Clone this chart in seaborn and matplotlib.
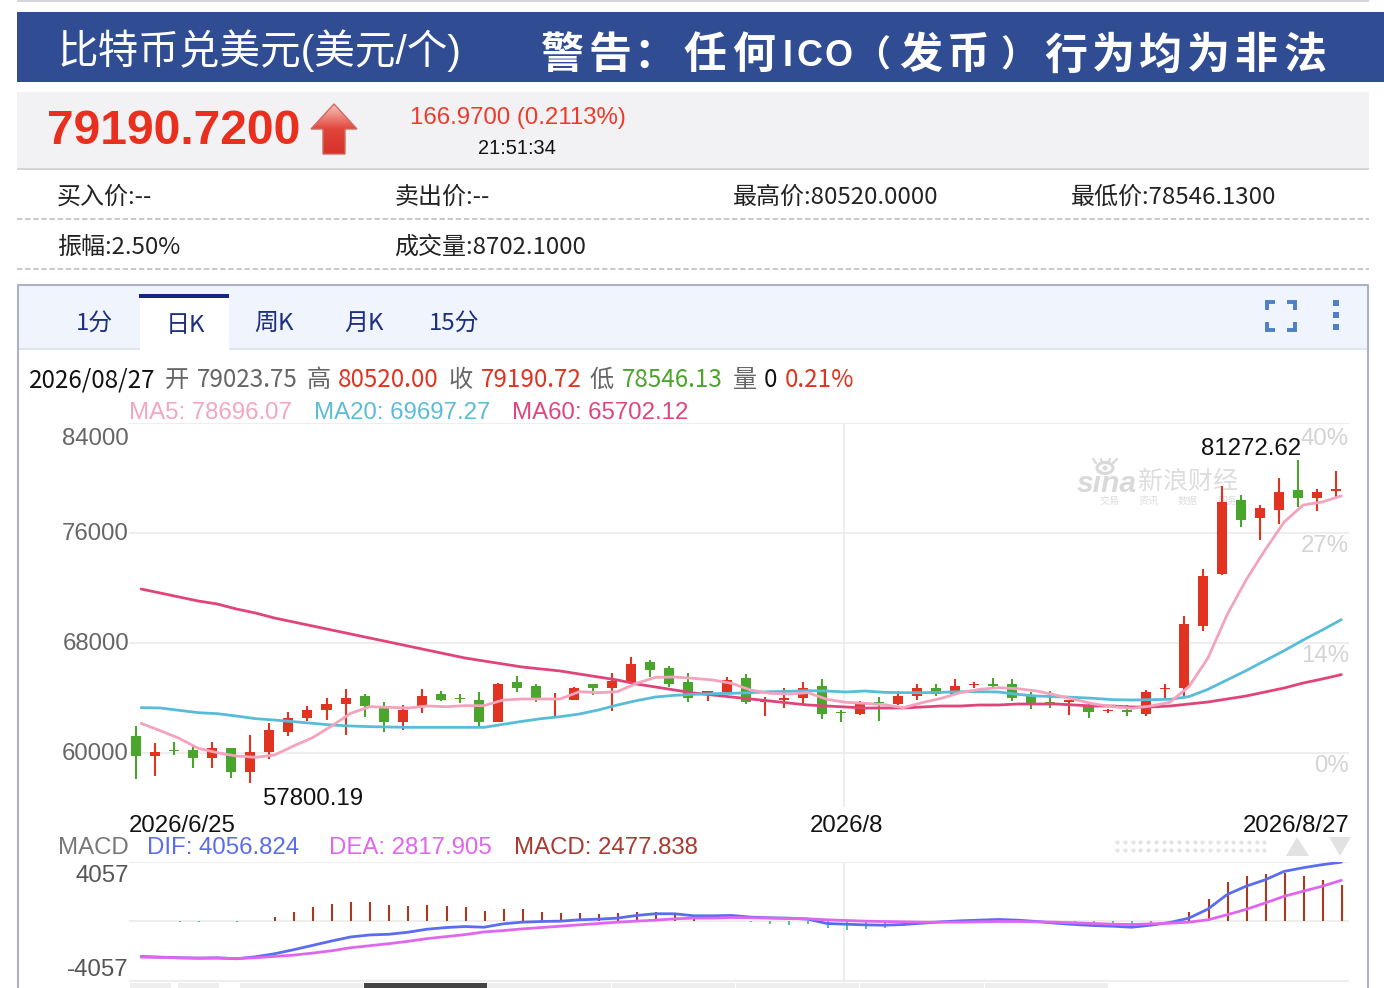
import numpy as np
import pandas as pd
import matplotlib
matplotlib.use('Agg')
import matplotlib.pyplot as plt
from matplotlib.patches import Rectangle, Polygon, Circle, Ellipse
import seaborn as sns

# candles
opens = [61236, 59782, 60218, 60218, 59636, 60364, 58618, 60073, 61527, 62545, 63127, 63564, 64145, 63418, 62254, 63418,
         64291, 64000, 63854, 62254, 65164, 64873, 63854, 63854, 65018, 64727, 65164, 66618, 66182, 65164, 64364, 64436,
         65454, 63709, 63854, 64000, 64873, 62982, 62836, 63709, 63564, 64145, 64727, 64291, 64921, 65018, 65018, 64145,
         63709, 63709, 63418, 63030, 63127, 62836, 64630, 64727, 69236, 73018, 78400, 77091, 77673, 79127, 78545, 79024]
closes = [59782, 60073, 60121, 59636, 60364, 58618, 60073, 61673, 62545, 63127, 63564, 64000, 63418, 62254, 63127, 64145,
          63854, 63903, 62254, 65018, 64727, 64000, 63927, 64727, 64727, 65236, 66473, 66036, 65018, 64000, 64436, 65309,
          63709, 63782, 64000, 64727, 62836, 62885, 63564, 63612, 64145, 64727, 64291, 64873, 65018, 64873, 64000, 63564,
          63564, 63782, 62982, 63127, 62982, 64436, 64727, 69382, 72873, 78255, 76945, 77818, 78982, 78545, 78982, 79191]
highs = [61964, 60751, 60824, 60509, 60776, 60364, 61333, 62158, 62982, 63442, 63976, 64679, 64291, 63733, 63467, 64679,
         64485, 64291, 64412, 65067, 65600, 64994, 64364, 64824, 65018, 65818, 66957, 66763, 66327, 65818, 64460, 65551,
         65745, 64073, 64727, 65164, 65382, 63127, 63782, 64073, 64533, 65018, 65018, 65382, 65164, 65454, 65382, 64436,
         64485, 63854, 63564, 63200, 63491, 64582, 65042, 69964, 73382, 79418, 78764, 78036, 80000, 81273, 79200, 80520]
lows = [58133, 58327, 59855, 58909, 58909, 58206, 57800, 59588, 61236, 62327, 62400, 61285, 62642, 61551, 61673, 62933,
        63782, 63636, 61915, 62254, 64436, 63709, 62545, 63854, 64218, 63054, 65164, 65503, 64800, 63709, 63782, 64339,
        63564, 62691, 63248, 63564, 62448, 62254, 62764, 62303, 63491, 63854, 64145, 64218, 64727, 64727, 63782, 63200,
        63273, 62764, 62521, 62933, 62691, 62691, 63927, 64145, 68873, 72945, 76436, 75491, 76655, 77891, 77600, 78546]

ma5 = [62158, 61624, 61067, 60339, 60024, 59782, 59685, 59854, 60509, 61115, 61964, 62885, 63370, 63321, 63273, 63418,
       63370, 63442, 63442, 63854, 63927, 63927, 63927, 64460, 64388, 64460, 65067, 65503, 65527, 65430, 65309, 65067,
       64582, 64339, 64291, 64388, 63903, 63685, 63612, 63515, 63297, 63661, 63976, 64388, 64630, 64751, 64679, 64509,
       64218, 63903, 63564, 63370, 63248, 63418, 63685, 64824, 66909, 70036, 72582, 74764, 76800, 78036, 78255, 78696]
ma20 = [63297, 63273, 63103, 62933, 62861, 62691, 62497, 62400, 62279, 62157, 62036, 61964, 61915, 61891, 61867, 61867,
        61867, 61867, 61867, 62085, 62303, 62497, 62642, 62836, 63127, 63491, 63806, 64073, 64194, 64267, 64315, 64339,
        64388, 64460, 64485, 64533, 64509, 64436, 64509, 64412, 64388, 64388, 64412, 64460, 64460, 64436, 64267, 64145,
        64097, 64048, 63976, 63879, 63854, 63879, 63903, 64097, 64630, 65309, 65988, 66715, 67442, 68218, 68945, 69697]
ma60 = [71927, 71636, 71345, 71055, 70836, 70473, 70182, 69818, 69527, 69236, 68945, 68655, 68364, 68073, 67782, 67491,
        67200, 66909, 66691, 66473, 66255, 66109, 65964, 65745, 65527, 65309, 65018, 64800, 64582, 64364, 64218, 64073,
        63927, 63782, 63636, 63491, 63418, 63345, 63273, 63273, 63273, 63345, 63418, 63418, 63491, 63491, 63564, 63564,
        63564, 63491, 63418, 63418, 63345, 63345, 63418, 63564, 63709, 63927, 64145, 64436, 64727, 65091, 65382, 65702]

# MACD panel
dif = [-2392, -2438, -2484, -2507, -2484, -2553, -2415, -2208, -1932, -1633, -1334, -1058, -920, -874, -736, -529,
       -414, -345, -391, -161, -46, 0, 23, 115, 161, 230, 414, 529, 529, 391, 391, 414,
       299, 253, 230, 161, -138, -184, -230, -253, -207, -115, -23, 46, 92, 138, 92, 0,
       -115, -207, -276, -322, -391, -253, -69, 230, 851, 1840, 2415, 2852, 3427, 3680, 3887, 4057]
dea = [-2438, -2461, -2484, -2507, -2507, -2530, -2484, -2392, -2300, -2162, -2001, -1794, -1656, -1518, -1357, -1173,
       -1035, -897, -713, -621, -506, -414, -322, -230, -138, -46, 23, 92, 184, 230, 230, 276,
       253, 230, 207, 184, 115, 69, 23, 0, -23, -46, -46, -46, -23, 0, 0, -23,
       -46, -92, -138, -184, -207, -161, -115, -46, 115, 460, 828, 1265, 1725, 2070, 2415, 2818]
macd = [0, 0, -30, -40, 0, -40, 0, 276, 644, 966, 1196, 1357, 1311, 1104, 1081, 1104,
        1058, 966, 690, 828, 828, 667, 552, 575, 529, 552, 667, 667, 460, 207, 46, 46,
        -30, -184, -207, -138, -414, -552, -483, -437, -276, -115, -60, 0, 0, 69, 0, 0,
        -115, -184, -276, -322, -391, -184, 0, 667, 1541, 2691, 3082, 3266, 3312, 3082, 2806, 2478]

price_ticks = [84000, 76000, 68000, 60000]
price_labels = ['84000', '76000', '68000', '60000']
pct_labels = ['40%', '27%', '14%', '0%']

df = pd.DataFrame({'i': np.arange(len(opens)), 'open': opens, 'close': closes, 'high': highs, 'low': lows,
                   'ma5': ma5, 'ma20': ma20, 'ma60': ma60, 'dif': dif, 'dea': dea, 'macd': macd})
df['line_x'] = df['i'] + 0.27

W, H = 1384, 988
RED = '#e03320'
GREEN = '#4aa52c'
GRID = '#eeeeee'
NAVY = '#1c2f80'
CJK = ['Noto Sans CJK SC', 'DejaVu Sans']

sns.set_theme(style='white')
plt.rcParams['font.family'] = ['Liberation Sans', 'Noto Sans CJK SC', 'DejaVu Sans']


def box(l, t, r, b):
    return [l / W, 1 - b / H, (r - l) / W, (b - t) / H]


def px(size):
    return size * 0.72


fig = plt.figure(figsize=(W / 100, H / 100), dpi=100, facecolor='white')
ui = fig.add_axes([0, 0, 1, 1])
ui.set_xlim(0, W)
ui.set_ylim(H, 0)
ui.axis('off')


def rect(l, t, r, b, color, z=1):
    ui.add_patch(Rectangle((l, t), r - l, b - t, facecolor=color, edgecolor='none', zorder=z))


def label(x, y, s, size=24, color='#222222', ha='left', **kw):
    # text sits about 2px high with va=center, hence the nudge
    ui.text(x, y + 2, s, fontsize=px(size), color=color, ha=ha, va='center', zorder=5, **kw)


# page header
rect(17, 0, 1369, 2, '#d5d5dc')
rect(17, 12, 1384, 82, '#304d94')
label(57, 49, '比特币兑美元(美元/个)', size=40.6, color='white')
warn_chars = '警告：任何ICO（发币）行为均为非法'
warn_x = [562, 610, 655, 705, 754, 788, 809, 838, 872, 921, 968, 1018, 1066, 1113, 1160, 1208, 1256, 1305]
warn_size = [43, 43, 43, 43, 43, 36, 36, 36, 36, 43, 43, 36, 43, 43, 43, 43, 43, 43]
for ch, x, sz in zip(warn_chars, warn_x, warn_size):
    label(x, 55, ch, size=sz, color='white', ha='center', fontweight='bold')

# quote panel
rect(17, 92, 1369, 168, '#f2f2f5')
rect(17, 168, 1369, 170, '#d5d5d8')
label(47, 129, '79190.7200', size=48, color='#e9301f', fontweight='bold')
arrow = Polygon([(334, 104), (357, 129), (345, 129), (345, 154), (323, 154), (323, 129), (311, 129)],
                closed=True, facecolor='none', edgecolor='#cf6a5e', lw=1, zorder=4)
ui.add_patch(arrow)
grad = ui.imshow(np.linspace(0, 1, 64).reshape(-1, 1), extent=(311, 357, 154, 104), aspect='auto', zorder=3,
                 cmap=matplotlib.colors.LinearSegmentedColormap.from_list('up', ['#f6c4bc', '#e2453a', '#d5322a']))
grad.set_clip_path(arrow)
ui.set_xlim(0, W)
ui.set_ylim(H, 0)
label(410, 116, '166.9700 (0.2113%)', size=24, color='#ef3a2a')
label(478, 147, '21:51:34', size=20, color='#111111')

label(57, 195, '买入价:--', family=CJK)
label(394, 195, '卖出价:--', family=CJK)
label(733, 195, '最高价:80520.0000', family=CJK)
label(1071, 195, '最低价:78546.1300', family=CJK)
label(57, 245, '振幅:2.50%', family=CJK)
label(394, 245, '成交量:8702.1000', family=CJK)
for y in [219, 269]:
    ui.plot([17, 1369], [y, y], color='#c4c4c4', lw=1.3, ls=(0, (3, 1.5)), zorder=2)

# chart frame and tabs
rect(19, 286, 1368, 349, '#eff4fd')
rect(19, 348, 1368, 350, '#dfe5f1')
rect(140, 296, 229, 351, 'white', z=2)
rect(139, 294, 229, 298, '#14267f', z=3)
ui.plot([18, 18, 1368, 1368], [988, 285, 285, 988], color='#aeb0c4', lw=1.5, zorder=3)
for cx, cy, s in zip([94, 185, 274, 364, 454], [321, 323, 321, 321, 321], ['1分', '日K', '周K', '月K', '15分']):
    label(cx, cy, s, size=24, color=NAVY, ha='center', family=CJK)
for (x0, y0, dx, dy) in [(1265, 300, 1, 1), (1297, 300, -1, 1), (1265, 332, 1, -1), (1297, 332, -1, -1)]:
    ui.plot([x0 + 10 * dx, x0 + 2 * dx, x0 + 2 * dx], [y0 + 2 * dy, y0 + 2 * dy, y0 + 10 * dy],
            color='#4f7fc8', lw=2.8, solid_capstyle='butt', solid_joinstyle='miter', zorder=4)
for y in [303, 315, 327]:
    rect(1333, y - 3, 1339, y + 3, '#4f7fc8', z=4)

# ohlc readout
label(29, 378, '2026/08/27', size=24.2, color='#111111', family=CJK)
for x, s, color in [(165, '开', '#666666'), (197, '79023.75', '#666666'), (307, '高', '#666666'),
                    (338, '80520.00', RED), (449, '收', '#666666'), (481, '79190.72', RED),
                    (590, '低', '#666666'), (622, '78546.13', GREEN), (733, '量', '#666666'),
                    (764, '0', '#111111'), (785, '0.21%', RED)]:
    label(x, 378, s, size=24.2, color=color, family=CJK)
label(129, 411, 'MA5: 78696.07', color='#f4a6c0')
label(314, 411, 'MA20: 69697.27', color='#5cbcd8')
label(512, 411, 'MA60: 65702.12', color='#e0457e')

# watermark behind the candles
ui.text(1107, 484, 'sina', fontsize=px(30), color='#d9d9d9', ha='center', va='center', fontweight='bold',
        style='italic', zorder=1)
ui.add_patch(Ellipse((1105, 468), 16, 11, facecolor='none', edgecolor='#d9d9d9', lw=2.2, zorder=1))
ui.add_patch(Circle((1105, 468), 2.5, facecolor='#d9d9d9', edgecolor='none', zorder=1))
for x0, x1 in [(1096, 1093), (1102, 1101), (1108, 1110), (1113, 1117)]:
    ui.plot([x0, x1], [463, 459], color='#d9d9d9', lw=1.6, zorder=1)
label(1188, 480, '新浪财经', size=25, color='#dddddd', ha='center', style='italic')
for cx, s in zip([1110, 1149, 1188, 1228], ['交易', '资讯', '数据', '服务']):
    label(cx, 499, s, size=10, color='#dddddd', ha='center')

# price panel
ax = fig.add_axes(box(129, 423, 1349, 807), zorder=2)
ax.patch.set_alpha(0)
for s in ax.spines.values():
    s.set_visible(False)
xlim = ((129 - 136) / 19.05, (1349 - 136) / 19.05)
up = df[df['close'] >= df['open']]
down = df[df['close'] < df['open']]
for part, color in [(up, RED), (down, GREEN)]:
    ax.vlines(part['i'], part['low'], part['high'], color=color, lw=1.5, zorder=3)
    ax.bar(part['i'], (part['close'] - part['open']).abs().clip(lower=110), bottom=part[['open', 'close']].min(axis=1),
           width=0.525, color=color, linewidth=0, zorder=3)
for col, color in [('ma60', '#e0447a'), ('ma20', '#58bcd9'), ('ma5', '#f4a3bd')]:
    sns.lineplot(data=df, x='line_x', y=col, color=color, lw=2, errorbar=None, ax=ax, legend=False, zorder=4)
ax.set(xlabel='', ylabel='', xticks=[], yticks=price_ticks, yticklabels=[])
ax.set_xlim(xlim)
ax.set_ylim(60000 - 54 * 8000 / 110, 84000)
ax.yaxis.grid(True, color=GRID, lw=1.5, zorder=0)
ax.tick_params(left=False, length=0)
ax.axvline(37.15, color=GRID, lw=1.5, zorder=1)
for y, s, pct, py in zip([437, 532, 642, 752], price_labels, pct_labels, [437, 544, 654, 764]):
    label(129, y, s, color='#666666', ha='right')
    label(1349, py, pct, color='#d4d4d4', ha='right')
label(1201, 447, '81272.62', color='#111111')
label(263, 797, '57800.19', color='#111111')
label(129, 824, '2026/6/25', color='#111111')
label(846, 824, '2026/8', color='#111111', ha='center')
label(1350, 824, '2026/8/27', color='#111111', ha='right')

# macd panel
label(58, 846, 'MACD', color='#777777')
label(147, 846, 'DIF: 4056.824', color='#5a6df0')
label(329, 846, 'DEA: 2817.905', color='#e066ee')
label(514, 846, 'MACD: 2477.838', color='#a83a30')
dot_x = np.arange(1117, 1272, 7.75)
for y in [842, 850]:
    ui.scatter(dot_x, np.full(len(dot_x), y), s=9, color='#e4e4e4', linewidths=0, zorder=2)
ui.add_patch(Polygon([(1297, 837), (1309, 856), (1286, 856)], facecolor='#e2e2e2', edgecolor='none'))
ui.add_patch(Polygon([(1329, 837), (1351, 837), (1340, 856)], facecolor='#e2e2e2', edgecolor='none'))
label(129, 874, '4057', color='#555555', ha='right')
label(129, 968, '-4057', color='#555555', ha='right')

ax2 = fig.add_axes(box(129, 862, 1349, 982), zorder=2)
ax2.patch.set_alpha(0)
for s in ax2.spines.values():
    s.set_visible(False)
pos = df[df['macd'] > 0]
neg = df[df['macd'] < 0]
ax2.vlines(pos['i'] + 0.3, 0, pos['macd'], color='#a93a1f', lw=1.5, zorder=3)
ax2.vlines(neg['i'] + 0.3, 0, neg['macd'], color='#4fc79a', lw=1.5, zorder=3)
sns.lineplot(data=df, x='line_x', y='dif', color='#5a6df0', lw=2, errorbar=None, ax=ax2, legend=False, zorder=4)
sns.lineplot(data=df, x='line_x', y='dea', color='#e066ee', lw=2, errorbar=None, ax=ax2, legend=False, zorder=5)
ax2.set(xlabel='', ylabel='', xticks=[], yticks=[4057, 0, -4057], yticklabels=[])
ax2.set_xlim(xlim)
ax2.set_ylim(-60 * 69, 59 * 69)
ax2.yaxis.grid(True, color=GRID, lw=1.5, zorder=0)
ax2.tick_params(left=False, length=0)
ax2.axvline(37.15, color=GRID, lw=1.5, zorder=1)

# range slider under the chart
for l, r in [(130, 172), (178, 220), (240, 364), (487, 612), (612, 736), (736, 860), (860, 985), (985, 1109)]:
    rect(l, 983, r - 1, 988, '#eeeeee', z=2)
rect(364, 983, 487, 988, '#444444', z=3)

fig.savefig('out.png', dpi=100)
